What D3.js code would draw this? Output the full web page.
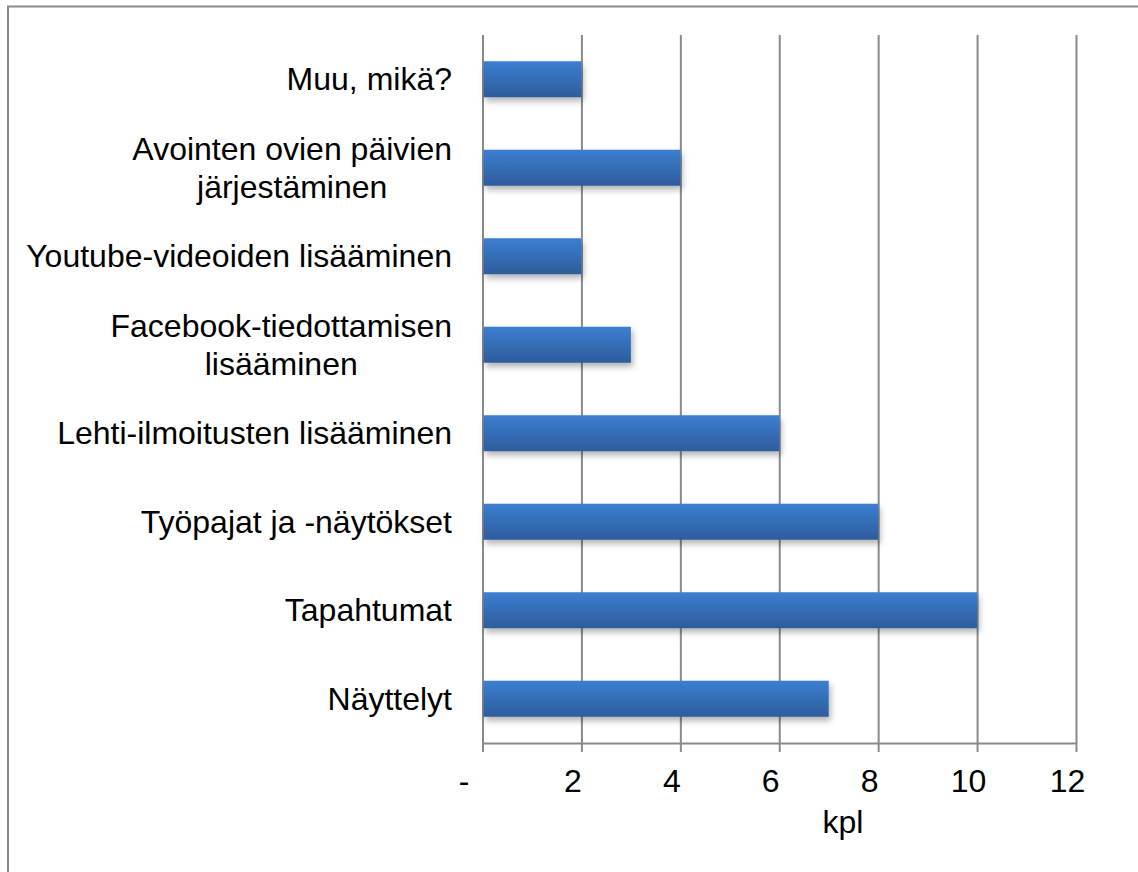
<!DOCTYPE html>
<html>
<head>
<meta charset="utf-8">
<script src="https://cdn.jsdelivr.net/npm/d3@7"></script>
<style>
  body { margin: 0; background: #fff; }
  text { font-family: "Liberation Sans", Arial, sans-serif; fill: #000; }
</style>
</head>
<body>
<svg id="chart"></svg>
<script>
// categories top to bottom, "\n" marks a line break in the label
var categories = [
  "Muu, mikä?",
  "Avointen ovien päivien\njärjestäminen",
  "Youtube-videoiden lisääminen",
  "Facebook-tiedottamisen\nlisääminen",
  "Lehti-ilmoitusten lisääminen",
  "Työpajat ja -näytökset",
  "Tapahtumat",
  "Näyttelyt"
];
var values = [2, 4, 2, 3, 6, 8, 10, 7];
var tickValues = [0, 2, 4, 6, 8, 10, 12];
var axisTitle = "kpl";

var width = 1138, height = 872;
var plot = {left: 482.5, right: 1076, top: 35, bottom: 743};
var fontSize = 32;

var svg = d3.select("#chart")
  .attr("width", width)
  .attr("height", height);

// gradient + shadow for bars
var defs = svg.append("defs");
var grad = defs.append("linearGradient")
  .attr("id", "barGrad")
  .attr("x1", 0).attr("y1", 0).attr("x2", 0).attr("y2", 1);
grad.append("stop").attr("offset", "0%").attr("stop-color", "#3b7fd2");
grad.append("stop").attr("offset", "100%").attr("stop-color", "#2d5c9b");
defs.append("filter")
  .attr("id", "shadow")
  .attr("x", "-10%").attr("y", "-30%").attr("width", "130%").attr("height", "180%")
  .append("feDropShadow")
  .attr("dx", 2).attr("dy", 4)
  .attr("stdDeviation", 3)
  .attr("flood-color", "#000")
  .attr("flood-opacity", 0.3);

// outer frame (only left and top edges are in view)
svg.append("path")
  .attr("d", "M8," + height + "V6.5H" + width)
  .attr("fill", "none")
  .attr("stroke", "#8a8a8a")
  .attr("stroke-width", 2);

var x = d3.scaleLinear()
  .domain([0, 12])
  .range([plot.left, plot.right]);

var y = d3.scaleBand()
  .domain(categories)
  .range([plot.top, plot.bottom])
  .paddingInner(0.593)
  .paddingOuter(0.2965);

// vertical gridlines
svg.append("g")
  .attr("class", "grid")
  .attr("transform", "translate(0," + plot.bottom + ")")
  .call(d3.axisBottom(x).tickValues(tickValues).tickSize(-(plot.bottom - plot.top)).tickFormat(""))
  .call(function(g) { g.select(".domain").remove(); })
  .selectAll("line")
  .attr("stroke", "#8a8a8a")
  .attr("stroke-width", 2);

// bars
svg.selectAll("rect.bar")
  .data(values)
  .enter()
  .append("rect")
  .attr("class", "bar")
  .attr("x", x(0) + 1)
  .attr("y", function(d, i) { return y(categories[i]); })
  .attr("width", function(d) { return x(d) - x(0) - 1; })
  .attr("height", y.bandwidth())
  .attr("fill", "url(#barGrad)")
  .attr("filter", "url(#shadow)");

// x axis
var xAxis = svg.append("g")
  .attr("transform", "translate(0," + plot.bottom + ")")
  .call(d3.axisBottom(x)
    .tickValues(tickValues)
    .tickSize(9)
    .tickSizeOuter(0)
    .tickFormat(function(d) { return d === 0 ? "-" : d; }));
xAxis.select(".domain")
  .attr("stroke", "#8a8a8a")
  .attr("stroke-width", 2);
xAxis.selectAll(".tick line")
  .attr("stroke", "#8a8a8a")
  .attr("stroke-width", 2);
xAxis.selectAll(".tick text")
  .attr("font-family", "Liberation Sans, Arial, sans-serif")
  .attr("font-size", fontSize)
  .attr("fill", "#000")
  .attr("y", 49)
  .attr("dy", 0)
  .attr("x", function(d) { return d === 0 ? -19 : -9; });

// axis title
svg.append("text")
  .attr("x", 843)
  .attr("y", 833)
  .attr("text-anchor", "middle")
  .attr("font-size", fontSize)
  .text(axisTitle);

// category labels, multi-line labels are centred as a block, right-aligned to labelRight
var labelRight = 452;
var lineHeight = 38;
categories.forEach(function(c) {
  var lines = c.split("\n");
  var cy = y(c) + y.bandwidth() / 2;
  var t = svg.append("text")
    .attr("font-size", fontSize);
  var first = cy - (lines.length - 1) * lineHeight / 2;
  lines.forEach(function(l, k) {
    t.append("tspan")
      .attr("y", first + k * lineHeight)
      .attr("dy", "0.35em")
      .text(l);
  });
  if (lines.length === 1) {
    t.attr("text-anchor", "end");
    t.selectAll("tspan").attr("x", labelRight);
  } else {
    var maxW = 0;
    t.selectAll("tspan").each(function() {
      maxW = Math.max(maxW, this.getComputedTextLength());
    });
    t.attr("text-anchor", "middle");
    t.selectAll("tspan").attr("x", labelRight - maxW / 2);
  }
});
</script>
</body>
</html>
